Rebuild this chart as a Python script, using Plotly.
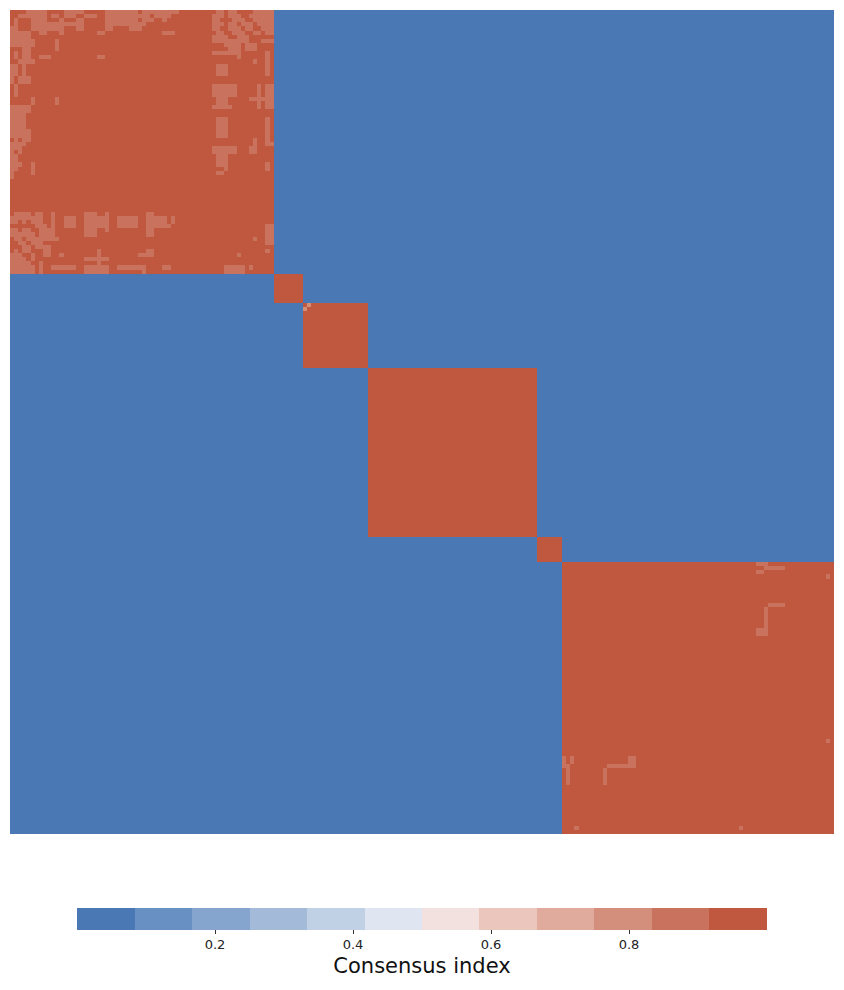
import numpy as np
import plotly.graph_objects as go

# cluster sizes along the diagonal (ordered samples)
block_sizes = [64, 7, 16, 41, 6, 66]

# consensus values
in_cluster_value = 1.0
out_cluster_value = 0.0
light_value = 0.88
faint_value = 0.8

# lighter (lower consensus) cells, as (row0, row1, col0, col1) inclusive, mirrored
light_rects = [
    (0, 0, 4, 8), (0, 0, 13, 17), (0, 0, 23, 30), (0, 0, 32, 40), (0, 0, 50, 51), (0, 0, 53, 54), (0, 0, 59, 63),
    (1, 1, 2, 8), (1, 1, 10, 11), (1, 1, 13, 15), (1, 1, 18, 20), (1, 1, 23, 31), (1, 1, 32, 33), (1, 1, 35, 38),
    (1, 1, 49, 51), (1, 1, 53, 55), (1, 1, 58, 63),
    (2, 2, 5, 8), (2, 2, 12, 12), (2, 2, 16, 17), (2, 2, 23, 30), (2, 2, 32, 34), (2, 2, 37, 37), (2, 2, 49, 50),
    (2, 2, 54, 56), (2, 2, 59, 63),
    (3, 3, 5, 11), (3, 3, 13, 17), (3, 3, 23, 31), (3, 3, 32, 32), (3, 3, 49, 51), (3, 3, 53, 54), (3, 3, 56, 58),
    (3, 3, 60, 63),
    (4, 4, 5, 6), (4, 4, 8, 8), (4, 4, 16, 17), (4, 4, 23, 24), (4, 4, 49, 50), (4, 4, 53, 55), (4, 4, 57, 58),
    (4, 4, 61, 63),
    (5, 5, 7, 7), (5, 5, 21, 22), (5, 5, 37, 39), (5, 5, 50, 51), (5, 5, 54, 56), (5, 5, 59, 60), (5, 5, 62, 63),
    (6, 7, 49, 52), (6, 7, 55, 57), (7, 8, 52, 55), (7, 7, 61, 63), (8, 9, 57, 59), (10, 10, 49, 53), (9, 10, 53, 55),
    (6, 6, 2, 4), (7, 8, 3, 5), (5, 5, 3, 4), (9, 11, 3, 4), (12, 12, 3, 5), (13, 15, 3, 3), (16, 17, 2, 4),
    (23, 31, 3, 3), (29, 31, 4, 4),
    (7, 8, 11, 11), (11, 11, 7, 9), (11, 11, 21, 22), (21, 22, 5, 5), (21, 22, 11, 11),
    (13, 15, 50, 52), (18, 20, 49, 54), (21, 22, 50, 52), (23, 23, 49, 53), (26, 30, 50, 52),
    (18, 23, 60, 60), (18, 23, 62, 63), (21, 21, 58, 63), (10, 15, 62, 62), (12, 12, 59, 59), (26, 31, 62, 62),
    (31, 31, 59, 59), (11, 11, 55, 55),
    (33, 34, 49, 54), (35, 37, 50, 52), (38, 38, 52, 52), (39, 39, 50, 51), (33, 34, 58, 59), (32, 32, 59, 59),
    (32, 32, 62, 63), (37, 38, 62, 62), (52, 56, 62, 63), (55, 55, 59, 59), (58, 58, 62, 62), (59, 59, 55, 55),
    (62, 62, 58, 58), (62, 62, 37, 38), (62, 63, 32, 32),
    # last cluster
    (134, 134, 181, 183), (135, 135, 183, 187), (136, 136, 181, 182), (137, 137, 198, 198),
    (144, 144, 184, 187), (145, 149, 183, 183), (150, 151, 181, 183), (177, 177, 198, 198),
]
faint_cells = [(71, 72)]

# discrete colour bins (12 bins over 0..1)
bin_colors = ["#4a78b4", "#6890c2", "#86a5ce", "#a3bbd9", "#c1d1e5", "#e0e6f1",
              "#f3e1df", "#eac6bd", "#e0ab9c", "#d48f7c", "#c9735e", "#c0583f"]
tick_values = [0.2, 0.4, 0.6, 0.8]
tick_labels = ["0.2", "0.4", "0.6", "0.8"]
colorbar_title = "Consensus index"

n = sum(block_sizes)
M = np.full((n, n), out_cluster_value)
start = 0
for s in block_sizes:
    M[start:start + s, start:start + s] = in_cluster_value
    start += s
for r0, r1, c0, c1 in light_rects:
    M[r0:r1 + 1, c0:c1 + 1] = light_value
    M[c0:c1 + 1, r0:r1 + 1] = light_value
for r, c in faint_cells:
    M[r, c] = faint_value
    M[c, r] = faint_value

nb = len(bin_colors)
colorscale = []
for i, c in enumerate(bin_colors):
    colorscale.append([i / nb, c])
    colorscale.append([(i + 1) / nb, c])

fig = go.Figure(go.Heatmap(
    z=M, zmin=0, zmax=1, colorscale=colorscale,
    colorbar=dict(
        orientation="h", x=0.5, xanchor="center", y=-0.0898, yanchor="top",
        len=690, lenmode="pixels", thickness=22, outlinewidth=0,
        xpad=0, ypad=0,
        tickvals=tick_values, ticktext=tick_labels, ticks="outside", ticklen=4,
        tickcolor="#333", tickfont=dict(size=13, color="#222", family="DejaVu Sans"),
        title=dict(text=colorbar_title, side="bottom",
                   font=dict(size=21, color="#111", family="DejaVu Sans")),
    ),
    hoverinfo="skip",
))
fig.update_layout(
    width=844, height=990,
    margin=dict(l=10, r=10, t=10, b=156),
    paper_bgcolor="white", plot_bgcolor="white",
    xaxis=dict(visible=False, range=[-0.5, n - 0.5]),
    yaxis=dict(visible=False, range=[n - 0.5, -0.5]),
)
fig.write_html("out.html")
